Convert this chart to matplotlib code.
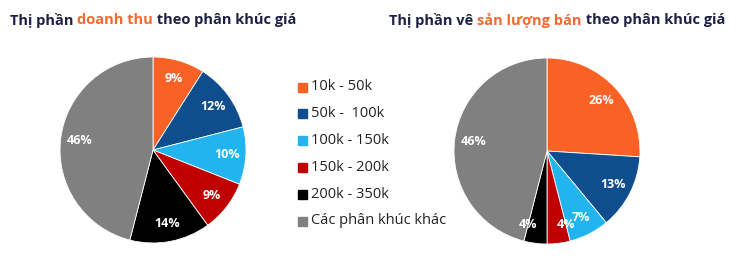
import matplotlib.pyplot as plt

plt.rcParams['font.family'] = ['Open Sans', 'DejaVu Sans']

segments = ['10k - 50k', '50k -  100k', '100k - 150k', '150k - 200k',
            '200k - 350k', 'Các phân khúc khác']
revenue_share = [9, 12, 10, 9, 14, 46]
volume_share = [26, 13, 7, 4, 4, 46]
colors = ['#FA6125', '#0F4E8E', '#22B4EE', '#C00000', '#000000', '#808080']

navy = '#1E2146'
orange = '#F26A2E'

fig = plt.figure(figsize=(7.46, 2.71), dpi=100)
W, H = 746, 271


def pie_at(cx, cy, r, values):
    ax = fig.add_axes([(cx - r) / W, 1 - (cy + r) / H, 2 * r / W, 2 * r / H])
    wedges, texts, autotexts = ax.pie(
        values, colors=colors, startangle=90, counterclock=False,
        autopct='%d%%', pctdistance=0.8,
        wedgeprops=dict(edgecolor='white', linewidth=0.6),
        textprops=dict(color='white', fontsize=9, fontweight='bold'))
    ax.set_xlim(-1, 1)
    ax.set_ylim(-1, 1)
    ax.set_aspect('equal')
    ax.axis('off')
    return autotexts


pie_at(153, 150, 93, revenue_share)
vol_labels = pie_at(547, 151, 93, volume_share)
# spread the two small 4% labels apart a little
vol_labels[3].set_ha('left')
vol_labels[4].set_ha('right')


def rich_title(x, y, parts):
    fig.canvas.draw()
    r = fig.canvas.get_renderer()
    for txt, col in parts:
        t = fig.text(x / W, 1 - y / H, txt, color=col, fontsize=10.5,
                     fontweight='bold', va='center', ha='left')
        x += t.get_window_extent(renderer=r).width


rich_title(10, 20, [('Thị phần ', navy), ('doanh thu', orange),
                    (' theo phân khúc giá', navy)])
rich_title(389, 20, [('Thị phần vê ', navy), ('sản lượng bán', orange),
                     (' theo phân khúc giá', navy)])

# legend
for i, (lab, col) in enumerate(zip(segments, colors)):
    yy = 87 + i * 26.8
    fig.patches.append(plt.Rectangle((298 / W, 1 - (yy + 4.5) / H), 9 / W, 9 / H,
                                     transform=fig.transFigure, color=col))
    fig.text(311 / W, 1 - yy / H, lab, fontsize=10.5, color='#222222',
             va='center', ha='left')

fig.savefig('out.png', dpi=100)
